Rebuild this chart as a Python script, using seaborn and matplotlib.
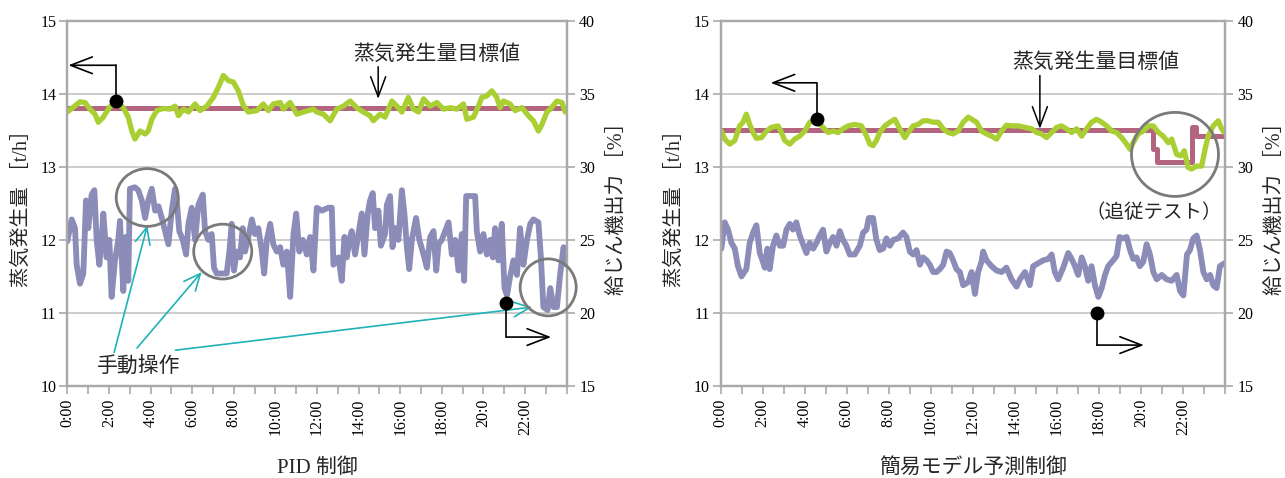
import matplotlib
matplotlib.use("Agg")
import matplotlib.pyplot as plt
import seaborn as sns
from matplotlib.patches import Ellipse

# ---------- PID 制御 (left panel) ----------
pid_steam_h = [0.00, 0.61, 0.85, 1.09, 1.33, 1.49, 1.73, 1.97, 2.29, 2.69, 2.93, 3.10, 3.25, 3.50,
               3.74, 3.89, 4.06, 4.30, 4.62, 4.94, 5.18, 5.34, 5.58, 5.82, 6.14, 6.38, 6.70, 7.02,
               7.26, 7.50, 7.74, 7.98, 8.22, 8.46, 8.70, 9.11, 9.42, 9.66, 9.90, 10.23, 10.38, 10.71,
               11.03, 11.35, 11.83, 11.99, 12.31, 12.63, 12.95, 13.27, 13.59, 13.91, 14.23, 14.55,
               14.71, 15.03, 15.27, 15.60, 15.84, 16.08, 16.39, 16.63, 16.88, 17.12, 17.44, 17.76,
               18.08, 18.40, 18.72, 19.04, 19.20, 19.52, 19.76, 19.92, 20.16, 20.40, 20.64, 20.80,
               20.96, 21.28, 21.52, 21.85, 22.16, 22.40, 22.64, 22.81, 23.05, 23.21, 23.53, 23.77, 23.93]
pid_steam = [13.75, 13.89, 13.88, 13.79, 13.72, 13.61, 13.68, 13.79, 13.90, 13.81, 13.68, 13.49, 13.38, 13.49,
             13.45, 13.49, 13.65, 13.77, 13.80, 13.79, 13.83, 13.70, 13.79, 13.75, 13.86, 13.77, 13.83, 13.95,
             14.09, 14.25, 14.18, 14.16, 14.04, 13.84, 13.75, 13.77, 13.86, 13.77, 13.86, 13.88, 13.79, 13.88,
             13.72, 13.75, 13.79, 13.75, 13.72, 13.63, 13.79, 13.83, 13.90, 13.81, 13.75, 13.70,
             13.63, 13.72, 13.68, 13.90, 13.83, 13.75, 13.95, 13.79, 13.75, 13.93, 13.83, 13.88,
             13.79, 13.81, 13.79, 13.86, 13.65, 13.68, 13.83, 13.95, 13.97, 14.04, 13.95, 13.81,
             13.90, 13.86, 13.77, 13.81, 13.70, 13.63, 13.49, 13.58, 13.75, 13.79, 13.90, 13.88, 13.75]
pid_target_h = [0, 24]
pid_target = [13.8, 13.8]
pid_feed_h = [0.00, 0.21, 0.37, 0.45, 0.61, 0.77, 0.90, 1.01, 1.17, 1.30, 1.41, 1.54, 1.65, 1.73, 1.89,
              2.02, 2.13, 2.29, 2.45, 2.53, 2.69, 2.81, 2.93, 3.01, 3.25, 3.41, 3.58, 3.74, 3.89, 4.06,
              4.22, 4.38, 4.54, 4.70, 4.86, 5.02, 5.18, 5.26, 5.38, 5.55, 5.71, 5.82, 5.98, 6.14, 6.30,
              6.51, 6.62, 6.78, 6.94, 7.05, 7.18, 7.42, 7.66, 7.79, 7.90, 8.01, 8.14, 8.30, 8.43, 8.54,
              8.70, 8.87, 9.02, 9.18, 9.35, 9.46, 9.59, 9.75, 9.90, 10.07, 10.23, 10.38, 10.55, 10.71,
              10.87, 11.00, 11.15, 11.32, 11.51, 11.67, 11.83, 11.99, 12.23, 12.55, 12.71, 12.79, 13.03,
              13.19, 13.32, 13.43, 13.56, 13.67, 13.83, 13.99, 14.15, 14.28, 14.44, 14.55, 14.68, 14.79,
              14.95, 15.07, 15.27, 15.36, 15.51, 15.63, 15.75, 15.91, 16.08, 16.20, 16.32, 16.43, 16.56,
              16.76, 16.92, 17.12, 17.28, 17.44, 17.60, 17.73, 17.84, 18.00, 18.16, 18.32, 18.48, 18.64,
              18.80, 18.96, 19.07, 19.17, 19.36, 19.60, 19.68, 19.84, 20.00, 20.16, 20.32, 20.45, 20.56,
              20.72, 20.88, 21.01, 21.13, 21.28, 21.44, 21.61, 21.76, 21.92, 22.09, 22.25, 22.40, 22.64,
              22.76, 22.88, 23.08, 23.21, 23.37, 23.53, 23.69, 23.85, 23.98]
pid_feed = [24.9, 26.4, 25.8, 23.3, 22.0, 22.7, 27.7, 25.8, 28.1, 28.4, 25.0, 23.3, 25.0, 26.8, 23.8,
            25.0, 21.1, 23.6, 25.0, 26.3, 21.5, 25.2, 22.2, 28.5, 28.6, 28.4, 27.7, 26.5, 27.7, 28.5,
            27.0, 27.3, 26.5, 25.6, 24.7, 27.0, 28.5, 27.7, 25.6, 25.0, 24.0, 26.1, 27.2, 25.0, 27.4,
            28.1, 25.6, 25.0, 25.4, 23.1, 22.7, 22.7, 22.7, 24.2, 26.1, 22.9, 24.2, 23.8, 25.8, 24.2,
            25.2, 26.4, 25.4, 25.8, 24.2, 22.7, 25.0, 26.1, 24.7, 24.2, 24.5, 23.3, 24.2, 21.1,
            25.4, 26.8, 24.2, 25.0, 24.0, 25.2, 22.9, 27.2, 27.0, 27.2, 27.2, 23.3, 23.8,
            22.2, 25.2, 23.8, 25.0, 25.6, 24.0, 25.4, 26.8, 24.0, 26.8, 27.7, 28.2, 25.8,
            27.0, 24.6, 25.4, 27.4, 28.0, 24.5, 25.8, 25.0, 28.4, 26.8, 24.5, 23.0, 25.0,
            26.5, 25.0, 24.0, 23.1, 25.2, 25.6, 22.9, 24.7, 25.0, 25.6, 26.2, 24.0, 25.0,
            22.9, 25.4, 22.2, 28.0, 28.0, 28.0, 25.6, 24.2, 25.4, 24.0, 25.0, 23.8, 25.8,
            23.6, 26.1, 21.7, 21.2, 22.5, 23.6, 22.6, 25.8, 23.3, 25.0, 26.1, 26.4, 26.2,
            23.8, 20.4, 20.2, 21.7, 20.4, 20.4, 22.7, 24.5, 23.3]

# ---------- 簡易モデル予測制御 (right panel) ----------
mpc_steam_h = [0.03, 0.19, 0.43, 0.67, 0.90, 1.06, 1.22, 1.38, 1.54, 1.70, 1.94, 2.18, 2.41, 2.73,
               2.89, 3.05, 3.29, 3.52, 3.76, 4.00, 4.24, 4.48, 4.80, 5.11, 5.35, 5.59, 5.82, 6.06,
               6.38, 6.70, 6.94, 7.10, 7.25, 7.41, 7.57, 7.81, 8.05, 8.29, 8.52, 8.76, 8.92, 9.16,
               9.40, 9.63, 9.87, 10.11, 10.35, 10.59, 10.82, 11.06, 11.30, 11.54, 11.78, 12.18,
               12.41, 12.65, 12.89, 13.13, 13.37, 13.60, 13.84, 14.16, 14.48, 14.80, 15.03, 15.27,
               15.51, 15.75, 15.99, 16.22, 16.46, 16.70, 16.94, 17.18, 17.41, 17.65, 17.89, 18.13,
               18.37, 18.60, 18.84, 19.08, 19.32, 19.48, 19.63, 19.87, 20.11, 20.35, 20.59, 20.83,
               21.06, 21.30, 21.46, 21.70, 21.90, 22.06, 22.25, 22.41, 22.65, 22.89, 23.05, 23.20,
               23.44, 23.68, 23.84, 23.97]
mpc_steam = [13.49, 13.38, 13.31, 13.36, 13.56, 13.61, 13.72, 13.58, 13.47, 13.39, 13.40, 13.49, 13.54, 13.56,
             13.47, 13.36, 13.31, 13.38, 13.42, 13.49, 13.61, 13.65, 13.56, 13.47, 13.49, 13.47, 13.52, 13.56,
             13.58, 13.56, 13.42, 13.31, 13.29, 13.36, 13.47, 13.56, 13.61, 13.65, 13.52, 13.40, 13.47, 13.56,
             13.58, 13.63, 13.63, 13.61, 13.61, 13.52, 13.47, 13.45, 13.49, 13.61, 13.68, 13.61,
             13.49, 13.45, 13.42, 13.38, 13.49, 13.57, 13.56, 13.56, 13.54, 13.52, 13.47, 13.45,
             13.40, 13.47, 13.54, 13.56, 13.52, 13.47, 13.52, 13.42, 13.52, 13.61, 13.65, 13.61,
             13.56, 13.49, 13.47, 13.40, 13.31, 13.24, 13.33, 13.45, 13.49, 13.56, 13.56, 13.47,
             13.42, 13.33, 13.38, 13.17, 13.15, 13.22, 12.99, 12.97, 13.01, 13.01, 13.24, 13.42,
             13.56, 13.63, 13.52, 13.47]
mpc_target_h = [0, 20.59, 20.59, 20.75, 20.75, 22.41, 22.41, 22.62, 22.62, 24]
mpc_target = [13.5, 13.5, 13.24, 13.24, 13.06, 13.06, 13.54, 13.54, 13.42, 13.42]
mpc_feed_h = [0.03, 0.19, 0.35, 0.51, 0.67, 0.82, 0.99, 1.22, 1.38, 1.54, 1.70, 1.86, 2.01, 2.10, 2.22,
              2.33, 2.49, 2.65, 2.81, 2.97, 3.13, 3.29, 3.44, 3.60, 3.76, 3.92, 4.08, 4.24, 4.40, 4.56,
              4.71, 4.87, 5.03, 5.19, 5.35, 5.51, 5.67, 5.82, 5.98, 6.14, 6.38, 6.62, 6.78, 6.94, 7.05,
              7.25, 7.41, 7.57, 7.73, 7.89, 8.05, 8.21, 8.44, 8.68, 8.84, 9.00, 9.16, 9.32, 9.48, 9.63,
              9.80, 9.95, 10.11, 10.27, 10.43, 10.59, 10.75, 10.90, 11.06, 11.22, 11.38, 11.54, 11.78,
              11.94, 12.10, 12.25, 12.41, 12.49, 12.65, 12.89, 13.13, 13.37, 13.60, 13.84, 14.08, 14.24,
              14.48, 14.71, 14.87, 15.11, 15.35, 15.59, 15.75, 15.90, 16.06, 16.30, 16.54, 16.70, 16.86,
              17.01, 17.18, 17.33, 17.49, 17.65, 17.81, 17.97, 18.13, 18.29, 18.44, 18.68, 18.84, 18.98,
              19.14, 19.32, 19.48, 19.63, 19.79, 19.95, 20.11, 20.27, 20.43, 20.59, 20.75, 20.99, 21.22,
              21.46, 21.70, 21.86, 22.02, 22.19, 22.33, 22.49, 22.65, 22.81, 22.97, 23.13, 23.29, 23.44,
              23.60, 23.76, 23.97]
mpc_feed = [24.4, 26.2, 25.7, 24.8, 24.4, 23.2, 22.5, 23.0, 24.8, 25.5, 26.0, 24.1, 23.5, 23.1, 24.4,
            23.0, 24.6, 25.3, 24.6, 24.6, 25.7, 26.1, 25.7, 26.2, 25.3, 24.7, 24.1, 24.8, 24.4, 24.8,
            25.3, 25.7, 24.2, 24.8, 25.2, 24.6, 25.6, 25.0, 24.6, 24.0, 24.0, 24.6, 25.5, 25.7, 26.5,
            26.5, 25.0, 24.3, 24.4, 25.1, 24.6, 25.0, 25.1, 25.5, 25.2, 24.2, 24.0, 24.3, 23.3, 23.8,
            23.6, 23.3, 22.8, 22.8, 23.0, 23.3, 24.2, 24.1, 23.6, 23.0, 22.8, 21.9, 22.1,
            22.8, 21.3, 22.8, 23.5, 24.2, 23.6, 23.2, 22.9, 22.8, 23.1, 22.3, 21.8, 22.3,
            22.8, 21.9, 23.2, 23.4, 23.6, 23.7, 24.0, 22.8, 22.3, 23.1, 24.1, 23.7, 23.2,
            22.6, 23.8, 23.2, 22.2, 23.2, 21.9, 21.1, 21.7, 22.6, 23.2, 23.6, 23.9, 25.2,
            25.1, 25.2, 24.3, 23.7, 23.8, 23.2, 23.5, 24.7, 24.0, 22.8, 22.3, 22.6, 22.3,
            22.2, 22.6, 21.5, 21.2, 24.0, 24.3, 25.1, 25.3, 24.3, 22.8, 22.3, 22.6, 21.9,
            21.7, 23.2, 23.4]

tick_hours = [0, 2, 4, 6, 8, 10, 12, 14, 16, 18, 20, 22]
tick_labels = ["0:00", "2:00", "4:00", "6:00", "8:00", "10:00", "12:00", "14:00",
               "16:00", "18:00", "20:0", "22:00"]

GREEN = "#a9cf32"
PURPLE = "#8b8cb8"
TARGET = "#b3647f"
SPINE = "#a9a9a9"
GRIDC = "#c8c8c8"
CYAN = "#1fb2b6"
CIRC = "#7a7a7a"

sns.set_theme(style="white")
plt.rcParams["font.family"] = ["Liberation Serif", "Noto Sans CJK JP"]

fig = plt.figure(figsize=(12.85, 4.78), dpi=100)
axL = fig.add_axes([67.3 / 1285, 92 / 478, 499.4 / 1285, 365.3 / 478])
axR = fig.add_axes([720.7 / 1285, 92 / 478, 504.3 / 1285, 365.3 / 478])


def draw_panel(ax, steam_h, steam, target_h, target, feed_h, feed, xlabel):
    ax2 = ax.twinx()
    # feeder output on the right axis, drawn below the steam lines
    sns.lineplot(x=feed_h, y=feed, ax=ax2, color=PURPLE, lw=4.2,
                 estimator=None, sort=False)
    ax2.set_ylim(15, 40)
    ax2.set_yticks([15, 20, 25, 30, 35, 40])
    ax2.grid(axis="y", color=GRIDC, lw=1.3)
    ax2.set_axisbelow(True)
    ax2.set_ylabel("給じん機出力 ［%］", fontsize=14.5, rotation=90, labelpad=9)

    sns.lineplot(x=target_h, y=target, ax=ax, color=TARGET, lw=3.6,
                 estimator=None, sort=False)
    sns.lineplot(x=steam_h, y=steam, ax=ax, color=GREEN, lw=3.8,
                 estimator=None, sort=False)
    ax.set_zorder(ax2.get_zorder() + 1)
    ax.patch.set_visible(False)

    ax.set_xlim(0, 24)
    ax.set_ylim(10, 15)
    ax.set_yticks(range(10, 16))
    ax.set_xticks(tick_hours)
    ax.set_xticklabels(tick_labels, rotation=90)
    ax.set_xticks(range(25), minor=True)
    ax.set_ylabel("蒸気発生量 ［t/h］", fontsize=14.5, labelpad=6)
    ax.set_xlabel(xlabel, fontsize=15, labelpad=17)

    for a in (ax, ax2):
        for s in a.spines.values():
            s.set_color(SPINE)
            s.set_linewidth(1.6)
        a.tick_params(which="both", direction="out", color=SPINE, width=1.2,
                      labelsize=11.5, labelcolor="black")
        a.tick_params(which="major", length=6)
        a.tick_params(which="minor", length=6)
    ax.tick_params(axis="y", pad=2)
    ax2.tick_params(axis="y", pad=3)
    ax.tick_params(axis="x", which="both", bottom=True, pad=3)
    return ax2


draw_panel(axL, pid_steam_h, pid_steam, pid_target_h, pid_target,
           pid_feed_h, pid_feed, "PID 制御")
draw_panel(axR, mpc_steam_h, mpc_steam, mpc_target_h, mpc_target,
           mpc_feed_h, mpc_feed, "簡易モデル予測制御")


def elbow(ax, x0, y0, y1, x1):
    ax.plot([x0], [y0], "o", color="black", ms=9, zorder=8, clip_on=False)
    ax.plot([x0, x0], [y0, y1], color="black", lw=1.2, zorder=7, clip_on=False)
    ax.annotate("", xy=(x1, y1), xytext=(x0, y1), annotation_clip=False,
                arrowprops=dict(arrowstyle="->,head_length=1.3,head_width=0.5",
                                color="black", lw=1.2, shrinkA=0, shrinkB=0))


def down_arrow(ax, x, y0, y1):
    ax.annotate("", xy=(x, y1), xytext=(x, y0),
                arrowprops=dict(arrowstyle="->,head_length=1.2,head_width=0.45",
                                color="black", lw=1.1, shrinkA=0, shrinkB=0))


def cyan_arrow(ax, x0, y0, x1, y1):
    ax.annotate("", xy=(x1, y1), xytext=(x0, y0),
                arrowprops=dict(arrowstyle="->,head_length=1.0,head_width=0.45",
                                color=CYAN, lw=1.2, shrinkA=0, shrinkB=0))


def ring(ax, x, y, w, h):
    ax.add_patch(Ellipse((x, y), w, h, fill=False, ec=CIRC, lw=2.0,
                         zorder=9, clip_on=False))


# left panel annotations
axL.text(17.77, 14.53, "蒸気発生量目標値", ha="center", va="center", fontsize=15)
down_arrow(axL, 14.94, 14.37, 13.93)
elbow(axL, 2.33, 13.90, 14.39, 0.05)
elbow(axL, 21.09, 11.14, 10.67, 23.25)
ring(axL, 3.84, 12.58, 2.98, 0.79)
ring(axL, 7.47, 11.84, 2.79, 0.75)
ring(axL, 23.11, 11.35, 2.69, 0.78)
axL.text(3.41, 10.26, "手動操作", ha="center", va="center", fontsize=15)
cyan_arrow(axL, 2.25, 10.46, 3.85, 12.20)
cyan_arrow(axL, 3.35, 10.52, 6.46, 11.56)
cyan_arrow(axL, 5.20, 10.49, 22.33, 11.08)

# right panel annotations
axR.text(17.86, 14.42, "蒸気発生量目標値", ha="center", va="center", fontsize=15)
down_arrow(axR, 15.19, 14.25, 13.52)
elbow(axR, 4.56, 13.65, 14.15, 2.38)
elbow(axR, 17.90, 11.0, 10.56, 20.14)
ring(axR, 21.62, 13.17, 4.14, 1.15)
axR.text(20.62, 12.37, "（追従テスト）", ha="center", va="center", fontsize=14)

fig.savefig("out.png", dpi=100)
